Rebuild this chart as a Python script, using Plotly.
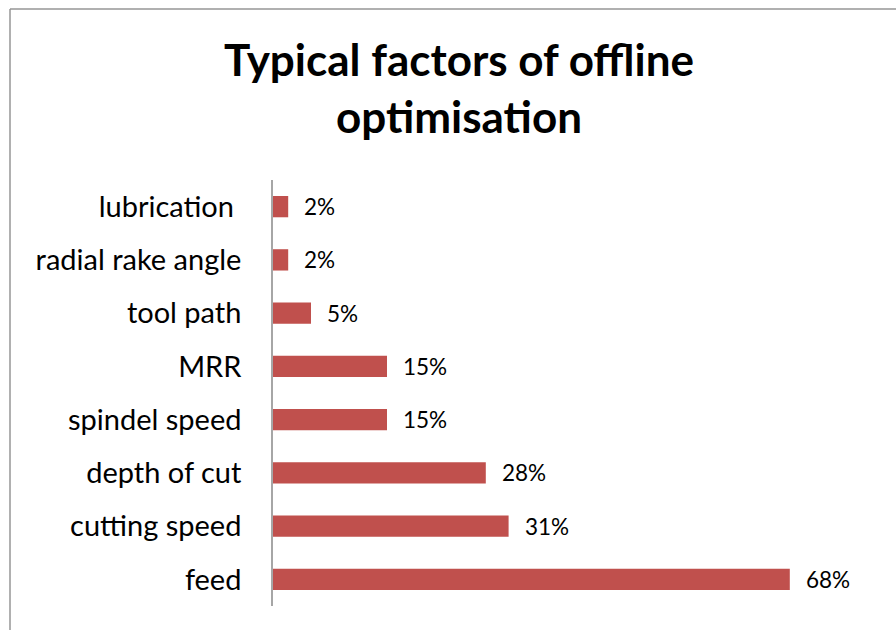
import plotly.graph_objects as go

# Factors (bottom to top) and their share of studies, in percent
factors = ["feed", "cutting speed", "depth of cut", "spindel speed", "MRR",
           "tool path", "radial rake angle", "lubrication\u00a0"]
shares = [68, 31, 28, 15, 15, 5, 2, 2]
value_labels = [f"{v}%" for v in shares]

BAR_COLOR = "#C0504D"
FONT = "Lato"

fig = go.Figure(
    go.Bar(
        x=shares,
        y=factors,
        orientation="h",
        marker=dict(color=BAR_COLOR, line=dict(width=0)),
        width=0.4,
        hoverinfo="skip",
    )
)

# Value labels just to the right of each bar
for f, v, lab in zip(factors, shares, value_labels):
    fig.add_annotation(
        x=v, y=f, text=lab, showarrow=False,
        xanchor="left", yanchor="middle", xshift=14,
        font=dict(family=FONT, size=22.5, color="#000000"),
    )

L, R, T, B = 273, 15, 180, 24
W, H = 896, 630
pw, ph = W - L - R, H - T - B

# Outer chart frame (left and top edges visible in the window)
fx0 = (10 - L) / pw
fy1 = (H - B - 9) / ph
fig.add_shape(type="line", xref="paper", yref="paper", x0=fx0, x1=fx0, y0=-1, y1=fy1,
              line=dict(color="#969696", width=1.5))
fig.add_shape(type="line", xref="paper", yref="paper", x0=fx0, x1=2, y0=fy1, y1=fy1,
              line=dict(color="#969696", width=1.5))

fig.update_layout(
    width=W, height=H,
    margin=dict(l=L, r=R, t=T, b=B),
    paper_bgcolor="white", plot_bgcolor="white",
    showlegend=False,
    title=dict(
        text="<b>Typical factors of offline<br>optimisation</b>",
        x=459 / W, xanchor="center",
        y=1 - 76 / H, yanchor="top",
        font=dict(family=FONT, size=44, color="#000000"),
    ),
    xaxis=dict(range=[0, 80], visible=False, fixedrange=True),
    yaxis=dict(
        categoryorder="array", categoryarray=factors,
        showline=True, linecolor="#A6A6A6", linewidth=1.5,
        ticks="", showgrid=False, zeroline=False,
        ticklabelstandoff=24,
        tickfont=dict(family=FONT, size=29, color="#000000"),
    ),
)

fig.write_html("out.html")
